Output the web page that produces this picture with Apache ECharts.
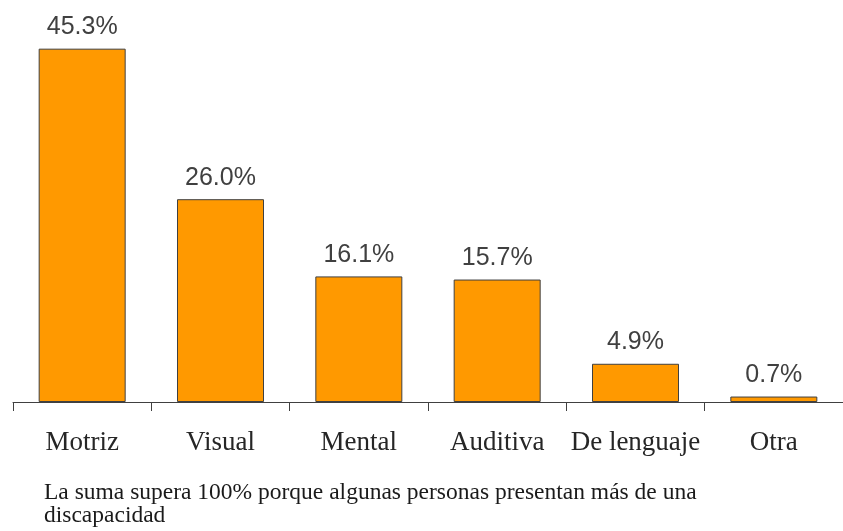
<!DOCTYPE html>
<html>
<head>
<meta charset="utf-8">
<script src="https://cdn.jsdelivr.net/npm/echarts@6/dist/echarts.min.js"></script>
<style>html,body{margin:0;padding:0;background:#fff;}#c{width:843px;height:531px;}</style>
</head>
<body>
<div id="c"></div>
<script>
const categories = ['Motriz', 'Visual', 'Mental', 'Auditiva', 'De lenguaje', 'Otra'];
const values = [45.3, 26.0, 16.1, 15.7, 4.9, 0.7];
const footnote = 'La suma supera 100% porque algunas personas presentan más de una\ndiscapacidad';

const chart = echarts.init(document.getElementById('c'));
chart.setOption({
  animation: false,
  backgroundColor: '#ffffff',
  grid: { left: 13, top: 12, width: 838, bottom: 129, containLabel: false },
  xAxis: {
    type: 'category',
    data: categories,
    axisLine: { lineStyle: { color: '#404040', width: 1 } },
    axisTick: { show: true, interval: 0, length: 9, lineStyle: { color: '#404040', width: 1 } },
    axisLabel: {
      interval: 0,
      margin: 27,
      fontFamily: '"Liberation Serif", "Times New Roman", serif',
      fontSize: 27,
      color: '#262626'
    }
  },
  yAxis: {
    type: 'value', min: 0, max: 50, show: false,
    splitLine: { show: false }
  },
  series: [{
    type: 'bar',
    data: values,
    barWidth: 87,
    itemStyle: { color: '#FF9900', borderColor: '#404040', borderWidth: 1 },
    label: {
      show: true,
      position: 'top',
      distance: 9,
      formatter: p => p.value.toFixed(1) + '%',
      fontFamily: '"Liberation Sans", Arial, sans-serif',
      fontSize: 25,
      color: '#404040'
    }
  }],
  graphic: [{
    type: 'text',
    left: 44,
    top: 481,
    style: {
      text: footnote,
      font: '23.5px "Liberation Serif", "Times New Roman", serif',
      fill: '#1a1a1a',
      lineHeight: 23
    }
  }]
});
</script>
</body>
</html>
